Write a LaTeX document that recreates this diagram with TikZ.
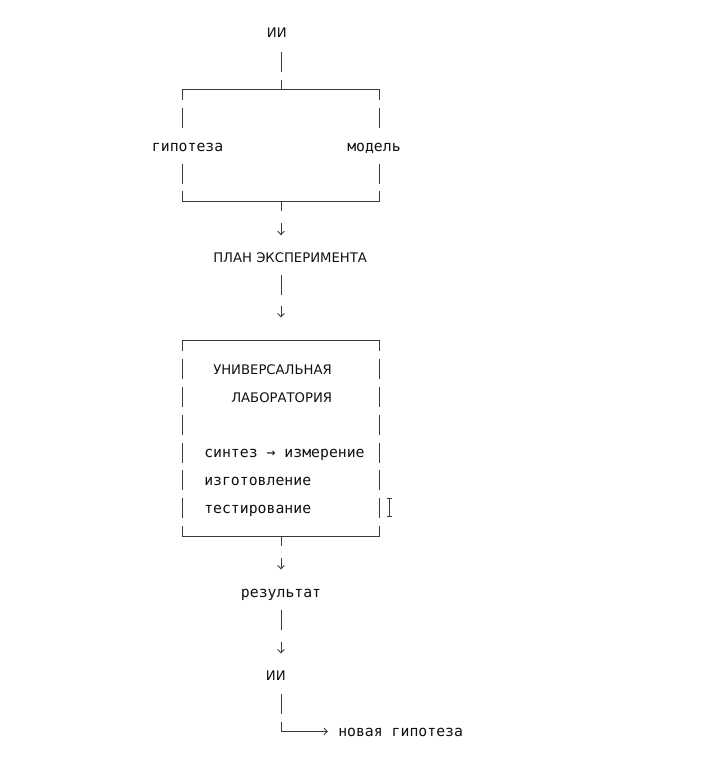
\documentclass[tikz,border=0pt]{standalone}
\usepackage{fontspec}
\setmainfont{DejaVu Sans}
\newfontfamily\monof{DejaVu Sans Mono}
\usetikzlibrary{arrows.meta}
\definecolor{ink}{HTML}{111111}
\definecolor{rulec}{HTML}{3A3A3A}
\begin{document}
\begin{tikzpicture}[x=0.75pt,y=-0.75pt,
  lo/.style={font=\monof\fontsize{11.1}{13}\selectfont, text=ink, inner sep=0pt, anchor=base west},
  up/.style={font=\fontsize{9.9}{12}\selectfont, text=ink, inner sep=0pt, anchor=base west},
  ln/.style={draw=rulec, line width=0.7pt},
  arr/.style={ln, -{Straight Barb[length=2.6pt,width=5pt]}}]
\useasboundingbox (0,0) rectangle (700,760);
% texts
\node[up] (ii1) at (266.7,37.5) {ИИ};
\node[lo] (hyp) at (151.7,151) {гипотеза};
\node[lo] (model) at (347,151) {модель};
\node[up] (plan) at (213,262) {ПЛАН ЭКСПЕРИМЕНТА};
\node[up] (lab1) at (213,374) {УНИВЕРСАЛЬНАЯ};
\node[up] (lab2) at (231,402) {ЛАБОРАТОРИЯ};
\node[lo] (s1) at (204,457) {синтез → измерение};
\node[lo] (s2) at (204,485) {изготовление};
\node[lo] (s3) at (204,513) {тестирование};
\node[lo] (res) at (240.7,597) {результат};
\node[up] (ii2) at (265.7,680.5) {ИИ};
\node[lo] (newh) at (338,736) {новая гипотеза};
% junction coordinates
\coordinate (jtop) at (281,89.8);
\coordinate (jbot) at (281,201.4);
\coordinate (labtop) at (281,340.9);
\coordinate (labbot) at (281,536.2);
\coordinate (corner) at (281,731.5);
\coordinate (tipnew) at (328,731.5);
% top bracket
\draw[ln] (281,51.9) -- (281,71.9);
\draw[ln] (281,79.8) -- (jtop);
\draw[ln] (182.7,99.8) -- (182.7,89.8) -- (jtop) -- (379,89.8) -- (379,99.8);
\foreach \c in {117.7,173.5}{
  \draw[ln] (182.7,\c-10) -- (182.7,\c+10);
  \draw[ln] (379,\c-10) -- (379,\c+10);
}
\draw[ln] (182.7,191.4) -- (182.7,201.4) -- (jbot) -- (379,201.4) -- (379,191.4);
\draw[ln] (jbot) -- (281,211.4);
\draw[arr] (281,223.3) -- (281,235.3);
% to lab
\draw[ln] (281,275.1) -- (281,295.1);
\draw[arr] (281,305.5) -- (281,317.5);
% lab box
\draw[ln] (182.7,350.9) -- (182.7,340.9) -- (labtop) -- (379,340.9) -- (379,350.9);
\foreach \c in {368.8,396.7,424.6,452.5,480.4,508.3}{
  \draw[ln] (182.7,\c-10) -- (182.7,\c+10);
  \draw[ln] (379,\c-10) -- (379,\c+10);
}
\draw[ln] (182.7,526.2) -- (182.7,536.2) -- (labbot) -- (379,536.2) -- (379,526.2);
\draw[ln] (labbot) -- (281,546.2);
\draw[arr] (281,557.5) -- (281,569.5);
% result
\draw[ln] (281,609.9) -- (281,629.9);
\draw[arr] (281,641.5) -- (281,653.5);
% final
\draw[ln] (281,693.6) -- (281,713.6);
\draw[arr] (281,721.5) -- (corner) -- (tipnew);
% text cursor
\draw[ln, line width=0.6pt] (389,498.5) -- (389,516.5);
\draw[ln, line width=0.6pt] (386.5,498.5) -- (391.5,498.5);
\draw[ln, line width=0.6pt] (386.5,516.5) -- (391.5,516.5);
\end{tikzpicture}
\end{document}
